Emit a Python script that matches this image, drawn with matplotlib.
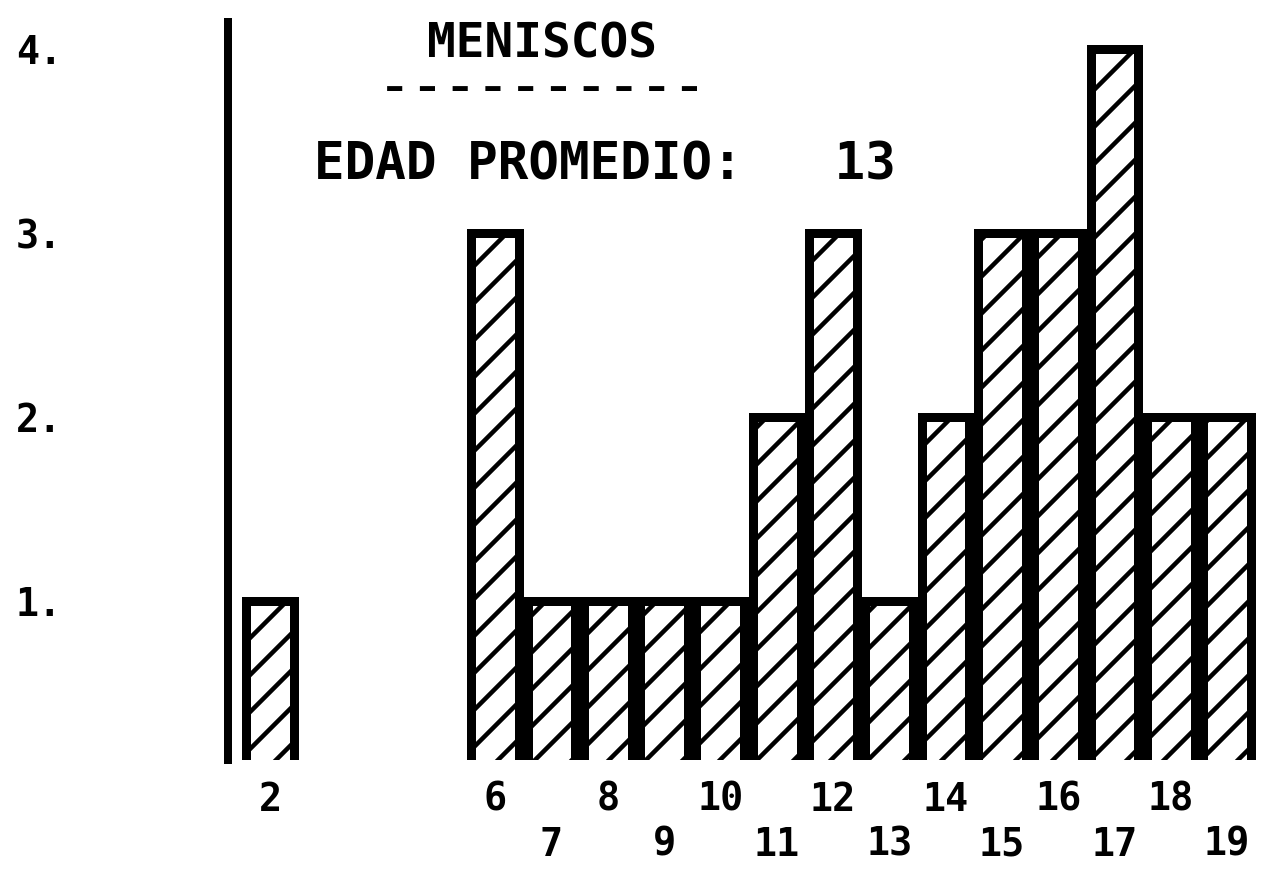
"""
Histograma de edades - MENISCOS
"""
import matplotlib
matplotlib.use("Agg")
import matplotlib.pyplot as plt

# datos
edades = [2, 6, 7, 8, 9, 10, 11, 12, 13, 14, 15, 16, 17, 18, 19]
casos = [1, 3, 1, 1, 1, 1, 2, 3, 1, 2, 3, 3, 4, 2, 2]
y_ticks = [1, 2, 3, 4]
y_labels = ['1.', '2.', '3.', '4.']
titulo = 'MENISCOS'
subrayado = ' '.join(['\u2013'] * 10)
subtitulo = 'EDAD PROMEDIO:   13'

DPI = 222
px = 72.0 / DPI  # un pixel en puntos

plt.rcParams['font.family'] = ['DejaVu Sans Mono', 'DejaVu Sans']
plt.rcParams['font.weight'] = 'bold'
plt.rcParams['hatch.linewidth'] = 4.5 * px
plt.rcParams['hatch.color'] = 'black'

fig = plt.figure(figsize=(1269 / DPI, 877 / DPI), dpi=DPI)
ax = fig.add_axes([228 / 1269, (877 - 760) / 877, (1269 - 228) / 1269, (760 - 22) / 877])

ax.bar(edades, casos, width=0.85, color='white', edgecolor='black',
       linewidth=9 * px, hatch='//')

ax.set_xlim(1.254, 19.745)
ax.set_ylim(0.136, 4.147)

for s in ['top', 'right', 'bottom']:
    ax.spines[s].set_visible(False)
ax.spines['left'].set_linewidth(8 * px)

ax.set_xticks([])
ax.set_yticks(y_ticks, labels=y_labels)
ax.tick_params(axis='y', length=0, pad=166 * px, labelsize=12.5)

# etiquetas del eje x escalonadas (pares arriba, impares abajo)
trans = ax.get_xaxis_transform()
for e in edades:
    y = -0.054 if e % 2 == 0 else -0.115
    ax.text(e, y, str(e), transform=trans, ha='center', va='center',
            fontsize=12.5, fontweight='bold')

ax.text(0.3016, 0.970, titulo, transform=ax.transAxes, ha='center', va='center',
        fontsize=15.5, fontweight='bold')
ax.text(0.3016, 0.910, subrayado, transform=ax.transAxes, ha='center',
        va='center', fontsize=12.5, fontweight='bold', family='DejaVu Sans')
ax.text(0.083, 0.806, subtitulo, transform=ax.transAxes, ha='left', va='center',
        fontsize=16.5, fontweight='bold')

fig.savefig('out.png', dpi=DPI)
